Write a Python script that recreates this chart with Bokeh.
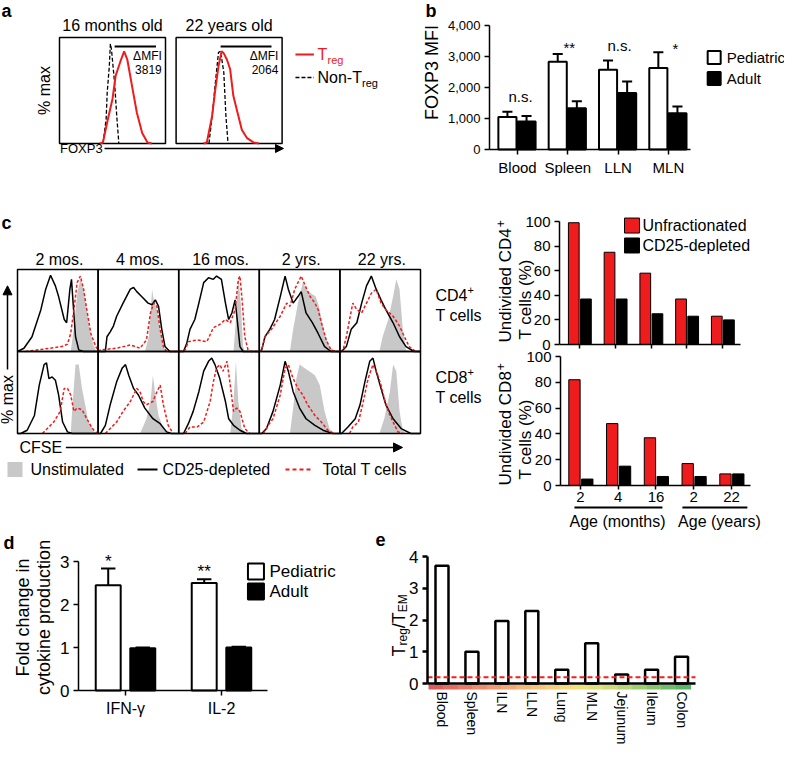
import math
from bokeh.plotting import figure
from bokeh.layouts import row, column
from bokeh.models import Range1d, LinearAxis, FixedTicker, NumeralTickFormatter, Arrow, NormalHead
from bokeh.core.properties import value
from bokeh.embed import file_html
from bokeh.resources import INLINE

# ---------------- data ----------------
# panel a: FOXP3 histograms, (x %, y % max)
a_titles = ["16 months old", "22 years old"]
a_mfi = ["3819", "2064"]
a_gate = [(52, 91), (42, 90)]
a_treg = [
    [(38, 0), (41, 1), (45, 20), (50, 42), (53, 64), (55, 70), (58, 79), (61, 87), (64, 79),
     (69, 51), (73, 29), (78, 10), (83, 1), (87, 0)],
    [(26, 0), (29, 1), (34, 26), (37, 51), (40, 73), (43, 87), (45, 85), (48, 79), (51, 70),
     (54, 45), (58, 29), (62, 13), (67, 5), (73, 1), (78, 0)],
]
a_nontreg = [
    [(41, 0), (44, 23), (45, 48), (47, 73), (48, 94), (49, 89), (52, 57), (54, 26), (56, 0)],
    [(31, 0), (34, 26), (37, 57), (40, 86), (42, 87), (45, 67), (47, 26), (49, 0)],
]

# panel b
b_tissues = ["Blood", "Spleen", "LLN", "MLN"]
b_ped = [1050, 2830, 2570, 2630]
b_ped_err = [170, 250, 300, 510]
b_adult = [900, 1330, 1820, 1170]
b_adult_err = [180, 230, 370, 220]
b_sig = ["n.s.", "**", "n.s.", "*"]

# panel c: CFSE histograms per age (x %, y % max)
c_ages = ["2 mos.", "4 mos.", "16 mos.", "2 yrs.", "22 yrs."]
cd4_unstim = [
    [(66, 0), (70, 30), (74, 70), (78, 88), (82, 75), (86, 50), (90, 25), (94, 8), (98, 0)],
    [(58, 0), (63, 18), (67, 76), (69, 63), (73, 51), (77, 27), (81, 6), (85, 0)],
    [(68, 0), (71, 39), (74, 92), (77, 59), (80, 6), (82, 0)],
    [(38, 0), (42, 27), (48, 59), (54, 84), (58, 76), (64, 71), (70, 67), (74, 55), (81, 22), (87, 6), (93, 0)],
    [(49, 0), (53, 18), (60, 39), (66, 67), (70, 88), (74, 76), (78, 27), (82, 2), (86, 0)],
]
cd4_depleted = [
    [(0, 0), (8, 4), (18, 18), (29, 51), (35, 76), (41, 93), (47, 80), (51, 67), (58, 39), (61, 35),
     (65, 76), (67, 88), (69, 59), (72, 18), (76, 2), (82, 0), (100, 0)],
    [(0, 0), (9, 0), (11, 18), (15, 24), (19, 31), (23, 43), (31, 59), (40, 76), (44, 78), (48, 73),
     (54, 67), (62, 59), (67, 57), (71, 63), (75, 55), (79, 27), (83, 6), (89, 0), (100, 0)],
    [(0, 0), (6, 0), (10, 10), (14, 27), (20, 39), (25, 59), (31, 84), (37, 90), (43, 88), (47, 92),
     (53, 88), (58, 59), (62, 39), (66, 47), (70, 63), (73, 35), (76, 6), (80, 0), (100, 0)],
    [(0, 0), (3, 2), (7, 18), (13, 27), (19, 39), (26, 67), (32, 92), (36, 76), (42, 59), (48, 67),
     (52, 73), (58, 47), (66, 35), (73, 22), (81, 6), (89, 0), (100, 0)],
    [(0, 0), (2, 0), (8, 6), (14, 27), (21, 35), (27, 59), (33, 80), (39, 92), (45, 76), (51, 63),
     (57, 51), (66, 35), (74, 18), (82, 6), (92, 0), (100, 0)],
]
cd4_total = [
    [(10, 0), (33, 3), (55, 6), (62, 9), (66, 22), (70, 51), (74, 84), (78, 92), (82, 76), (86, 51),
     (91, 22), (97, 6), (100, 2)],
    [(0, 0), (3, 2), (23, 4), (40, 8), (52, 4), (60, 14), (65, 47), (69, 59), (73, 55), (77, 27),
     (81, 6), (85, 0), (100, 0)],
    [(0, 0), (8, 2), (12, 12), (23, 14), (35, 12), (43, 29), (51, 33), (58, 39), (64, 35), (70, 51),
     (74, 88), (76, 92), (79, 59), (82, 18), (86, 2), (90, 0), (100, 0)],
    [(0, 0), (3, 2), (7, 18), (15, 27), (26, 43), (34, 59), (38, 55), (44, 76), (52, 92), (57, 80),
     (63, 67), (69, 59), (73, 51), (77, 35), (83, 14), (89, 2), (95, 0), (100, 0)],
    [(0, 0), (4, 2), (8, 18), (12, 39), (16, 59), (21, 51), (27, 47), (33, 59), (39, 71), (45, 76),
     (51, 59), (57, 51), (66, 43), (74, 31), (80, 18), (86, 6), (94, 0), (100, 0)],
]
cd8_unstim = [
    [(66, 0), (68, 31), (72, 84), (76, 84), (80, 55), (84, 35), (88, 14), (95, 2), (100, 0)],
    [(52, 0), (60, 18), (65, 39), (68, 71), (71, 47), (75, 22), (81, 6), (89, 0)],
    [(64, 0), (68, 39), (71, 88), (74, 39), (78, 6), (84, 0)],
    [(38, 0), (42, 31), (46, 67), (50, 84), (56, 80), (62, 76), (69, 71), (75, 59), (81, 27), (87, 6), (93, 0)],
    [(49, 0), (55, 18), (62, 51), (66, 84), (70, 76), (74, 27), (78, 4), (82, 0)],
]
cd8_depleted = [
    [(0, 0), (4, 0), (12, 4), (21, 22), (27, 59), (33, 84), (36, 86), (39, 67), (43, 69), (47, 65),
     (51, 47), (56, 14), (62, 2), (68, 0), (100, 0)],
    [(0, 0), (3, 0), (9, 10), (15, 35), (23, 63), (30, 80), (34, 84), (38, 71), (44, 55), (50, 47),
     (58, 31), (68, 18), (77, 12), (85, 2), (91, 0), (100, 0)],
    [(0, 0), (6, 0), (12, 12), (18, 27), (25, 51), (31, 76), (37, 88), (41, 92), (45, 84), (51, 67),
     (58, 39), (62, 18), (68, 10), (76, 4), (84, 0), (100, 0)],
    [(0, 0), (3, 0), (9, 6), (17, 27), (26, 59), (32, 88), (36, 76), (42, 51), (50, 31), (58, 18),
     (69, 10), (79, 4), (91, 0), (100, 0)],
    [(0, 0), (2, 0), (10, 8), (19, 18), (25, 35), (31, 63), (37, 88), (41, 92), (45, 76), (51, 55),
     (57, 35), (66, 18), (76, 6), (88, 0), (100, 0)],
]
cd8_total = [
    [(31, 0), (37, 6), (45, 14), (53, 27), (58, 55), (62, 55), (66, 47), (70, 27), (74, 31), (80, 29),
     (86, 18), (93, 6), (99, 0)],
    [(9, 0), (15, 6), (23, 14), (31, 27), (40, 39), (48, 55), (52, 51), (56, 39), (60, 35), (68, 39),
     (73, 51), (77, 59), (81, 35), (87, 10), (93, 0)],
    [(8, 0), (14, 8), (23, 8), (31, 14), (39, 39), (43, 63), (47, 80), (51, 84), (55, 76), (60, 88),
     (64, 59), (68, 27), (72, 31), (76, 27), (82, 6), (88, 0)],
    [(5, 0), (11, 10), (17, 18), (26, 47), (32, 80), (36, 84), (42, 67), (48, 55), (54, 47), (60, 35),
     (69, 22), (77, 14), (85, 4), (93, 0)],
    [(12, 0), (16, 8), (23, 14), (29, 39), (35, 67), (41, 84), (47, 71), (51, 59), (55, 43), (60, 27),
     (66, 14), (72, 2), (78, 0)],
]

# panel c: undivided cells (%)
c_age_ticks = ["2", "4", "16", "2", "22"]
cd4_unfrac = [99, 75, 58, 37, 23]
cd4_depl = [37, 37, 25, 23, 20]
cd8_unfrac = [82, 48, 37, 17, 9]
cd8_depl = [5, 15, 7, 7, 9]

# panel d
d_cytokines = ["IFN-γ", "IL-2"]
d_ped = [2.45, 2.50]
d_ped_err = [0.39, 0.09]
d_adult = [0.98, 1.00]
d_adult_err = [0.02, 0.02]
d_sig = ["*", "**"]

# panel e
e_tissues = ["Blood", "Spleen", "ILN", "LLN", "Lung", "MLN", "Jejunum", "Ileum", "Colon"]
e_ratio = [3.71, 1.0, 1.97, 2.28, 0.43, 1.27, 0.28, 0.43, 0.84]
e_threshold = 0.2
e_gradient = ["#e05c5c", "#e56a62", "#ea7a68", "#ee8a6e", "#f19a72", "#f3a876", "#f5b67a", "#f6c27c",
              "#f6ce7c", "#f4da7c", "#efe07c", "#e2e07a", "#cedb78", "#b8d476", "#a0cc72", "#88c46e",
              "#70bc6a", "#5cb466"]

# ---------------- helpers ----------------
FONT = value("Liberation Sans")
RED = "#ee1c1c"
GRAY = "#c8c8c8"


def canvas(w, h, xr, yr):
    return figure(width=w, height=h, x_range=Range1d(*xr), y_range=Range1d(*yr),
                  x_axis_type=None, y_axis_type=None, toolbar_location=None,
                  output_backend="svg", min_border=0, outline_line_color=None)


def txt(p, x, y, s, size, color="black", align="left", base="middle", angle=0, bold=False, **kw):
    p.text(x=[x], y=[y], text=[s], text_font=FONT, text_font_size=f"{size}px",
           text_color=color, text_align=align, text_baseline=base, angle=angle,
           text_font_style="bold" if bold else "normal", **kw)


def add_axis(p, side, ticks, loc, bounds, size, labels=None, fmt=None, xr="default", yr="default",
             tick_out=5, standoff=4, width=1.5, orient="horizontal"):
    ax = LinearAxis(ticker=FixedTicker(ticks=ticks), fixed_location=loc, bounds=bounds,
                    x_range_name=xr, y_range_name=yr,
                    axis_line_width=width, major_tick_line_width=width,
                    major_tick_out=tick_out, major_tick_in=0, minor_tick_out=0, minor_tick_in=0,
                    major_label_text_font="Liberation Sans", major_label_text_font_size=size,
                    major_label_text_color="black",
                    major_label_standoff=standoff, major_label_orientation=orient)
    if labels is not None:
        ax.major_label_overrides = labels
    if fmt is not None:
        ax.formatter = fmt
    p.add_layout(ax, side)


def err_bars(p, xs, tops, errs, cap, lw, **kw):
    ends = [t + e for t, e in zip(tops, errs)]
    p.segment(x0=xs, y0=tops, x1=xs, y1=ends, line_color="black", line_width=lw, **kw)
    p.segment(x0=[x - cap / 2 for x in xs], y0=ends, x1=[x + cap / 2 for x in xs], y1=ends,
              line_color="black", line_width=lw, **kw)


def shifted(curve, dx, dy):
    return [x + dx for x, _ in curve], [y + dy for _, y in curve]


# ---------------- panel a ----------------
fa = canvas(412, 182, (-55.66, 333.02), (-36.79, 134.91))
a_off = [0, 110]
for k, o in enumerate(a_off):
    fa.quad(left=[o], right=[o + 100], bottom=[0], top=[100], fill_color=None,
            line_color="black", line_width=1.5)
    xs, ys = shifted(a_nontreg[k], o, 0)
    fa.line(xs, ys, line_color="black", line_width=1.3, line_dash="4 2")
    xs, ys = shifted(a_treg[k], o, 0)
    fa.line(xs, ys, line_color=RED, line_width=2)
    g0, g1 = a_gate[k]
    fa.line([o + g0, o + g1], [91.5, 91.5], line_color="black", line_width=2)
    txt(fa, o + 96.5, 83, "ΔMFI", 12, align="right")
    txt(fa, o + 96.5, 70, a_mfi[k], 12, align="right")
    txt(fa, o + 50, 111, a_titles[k], 16, align="center")

fa.line([222.6, 240], [84, 84], line_color=RED, line_width=2)
txt(fa, 243.4, 84, "T", 16, color=RED)
txt(fa, 252.8, 79.2, "reg", 11, color=RED)
fa.line([222.6, 240], [62.3, 62.3], line_color="black", line_width=1.5, line_dash="4 2")
txt(fa, 243.4, 62.3, "Non-T", 16)
txt(fa, 285.4, 57.5, "reg", 11)
txt(fa, -14, 50, "% max", 16, align="center", angle=math.pi / 2)
txt(fa, 0.5, -4.7, "FOXP3", 13)
fa.add_layout(Arrow(end=NormalHead(size=8, fill_color="black"), x_start=42.5, y_start=-4.7,
                    x_end=211.3, y_end=-4.7, line_width=1.5))
txt(fa, -54.7, 134.5, "a", 18, base="top", bold=True)

# ---------------- panel b ----------------
fb = canvas(372, 182, (-2.087, 5.308), (-1064.5, 4806.5))
bx = list(range(len(b_tissues)))
b_px = [i - 0.2 for i in bx]
b_ax = [i + 0.18 for i in bx]
fb.vbar(x=b_px, top=b_ped, width=0.36, fill_color="white", line_color="black", line_width=2)
fb.vbar(x=b_ax, top=b_adult, width=0.36, fill_color="black", line_color="black", line_width=2)
err_bars(fb, b_px, b_ped, b_ped_err, 0.2, 2)
err_bars(fb, b_ax, b_adult, b_adult_err, 0.2, 2)
add_axis(fb, "left", [0, 1000, 2000, 3000, 4000], -0.557, (0, 4000), "13px",
         fmt=NumeralTickFormatter(format="0,0"))
add_axis(fb, "below", bx, 0, (-0.557, 3.44), "15px", labels={i: t for i, t in enumerate(b_tissues)})
for s, x, y in zip(b_sig, [0.06, 1.03, 2.03, 3.14], [1710, 3290, 3355, 3258]):
    txt(fb, x, y, s, 15, align="center")
fb.scatter([3.91, 3.91], [2968, 2290], marker="square", size=13, fill_color=["white", "black"],
           line_color="black", line_width=2)
txt(fb, 4.16, 2968, "Pediatric", 15)
txt(fb, 4.16, 2290, "Adult", 15)
txt(fb, -1.69, 2484, "FOXP3 MFI", 18, align="center", angle=math.pi / 2)
txt(fb, -1.83, 4790, "b", 18, base="top", bold=True)

# ---------------- panel c, histograms ----------------
fc1 = canvas(482, 348, (-21.09, 576.92), (-118.29, 306.1))
rows = [(cd8_unstim, cd8_depleted, cd8_total), (cd4_unstim, cd4_depleted, cd4_total)]
gx, gy, kx, ky, rx, ry = [], [], [], [], [], []
for r, (unst, dep, tot) in enumerate(rows):
    for j in range(len(c_ages)):
        xs, ys = shifted(unst[j], 100 * j, 100 * r)
        gx.append(xs); gy.append(ys)
        xs, ys = shifted(dep[j], 100 * j, 100 * r)
        kx.append(xs); ky.append(ys)
        xs, ys = shifted(tot[j], 100 * j, 100 * r)
        rx.append(xs); ry.append(ys)
fc1.patches(gx, gy, fill_color=GRAY, line_color=None)
fc1.multi_line(kx, ky, line_color="black", line_width=1.5)
fc1.multi_line(rx, ry, line_color=RED, line_width=1.5, line_dash="3 2")
cells_l = [100 * j for r in range(2) for j in range(5)]
cells_b = [100 * r for r in range(2) for j in range(5)]
fc1.quad(left=cells_l, right=[v + 100 for v in cells_l], bottom=cells_b,
         top=[v + 100 for v in cells_b], fill_color=None, line_color="black", line_width=1.5)
for j, t in enumerate(c_ages):
    txt(fc1, 100 * j + 52, 212.2, t, 16, align="center")
txt(fc1, 518.6, 168.3, "CD4", 16)
txt(fc1, 558.3, 174.4, "+", 11)
txt(fc1, 518.6, 143.9, "T cells", 16)
txt(fc1, 518.6, 68.3, "CD8", 16)
txt(fc1, 558.3, 74.4, "+", 11)
txt(fc1, 518.6, 43.9, "T cells", 16)
txt(fc1, -12.4, 41.5, "% max", 16, align="center", angle=math.pi / 2)
fc1.add_layout(Arrow(end=NormalHead(size=9, fill_color="black"), x_start=-12.4, y_start=78,
                     x_end=-12.4, y_end=180.1, line_width=1.5))
txt(fc1, 2.5, -17, "CFSE", 16)
fc1.add_layout(Arrow(end=NormalHead(size=9, fill_color="black"), x_start=60, y_start=-17,
                     x_end=477.7, y_end=-17, line_width=1.5))
fc1.scatter([-3.1], [-43.9], marker="square", size=15, fill_color=GRAY, line_color=None)
txt(fc1, 16.1, -43.9, "Unstimulated", 16)
fc1.line([148.9, 173.7], [-43.9, -43.9], line_color="black", line_width=2)
txt(fc1, 180, -43.9, "CD25-depleted", 16)
fc1.line([332.5, 363.5], [-43.9, -43.9], line_color=RED, line_width=2, line_dash="4 3")
txt(fc1, 378.4, -43.9, "Total T cells", 16)
txt(fc1, -19.9, 268.3, "c", 18, base="top", bold=True)

# ---------------- panel c, bars ----------------
fc2 = canvas(302, 348, (-2.713, 5.734), (-151.22, 131.71))
fc2.extra_x_ranges = {"bot": Range1d(-2.596, 5.404)}
fc2.extra_y_ranges = {"bot": Range1d(-34.88, 234.88)}
cx = list(range(len(c_age_ticks)))
c_rx = [i - 0.16 for i in cx]
c_kx = [i + 0.18 for i in cx]
fc2.vbar(x=c_rx, top=cd4_unfrac, width=0.3, fill_color=RED, line_color="black", line_width=1)
fc2.vbar(x=c_kx, top=cd4_depl, width=0.3, fill_color="black", line_color="black", line_width=1)
fc2.vbar(x=c_rx, top=cd8_unfrac, width=0.3, fill_color=RED, line_color="black", line_width=1,
         x_range_name="bot", y_range_name="bot")
fc2.vbar(x=c_kx, top=cd8_depl, width=0.3, fill_color="black", line_color="black", line_width=1,
         x_range_name="bot", y_range_name="bot")
pct = [0, 20, 40, 60, 80, 100]
add_axis(fc2, "left", pct, -0.559, (0, 100), "15px")
add_axis(fc2, "below", cx, 0, (-0.559, 4.503), "15px", labels={i: "" for i in cx}, tick_out=4)
add_axis(fc2, "left", pct, -0.53, (0, 100), "15px", xr="bot", yr="bot")
add_axis(fc2, "below", cx, 0, (-0.53, 4.503), "15px", xr="bot", yr="bot",
         labels={i: t for i, t in enumerate(c_age_ticks)}, tick_out=4, standoff=2)
fc2.scatter([1.469, 1.469], [96.7, 80.5], marker="square", size=15, fill_color=[RED, "black"],
            line_color="black", line_width=1)
txt(fc2, 1.762, 96.7, "Unfractionated", 16)
txt(fc2, 1.762, 80.5, "CD25-depleted", 16)
txt(fc2, -2.07, 1.6, "Undivided CD4", 17, angle=math.pi / 2)
txt(fc2, -2.21, 95.4, "+", 12, angle=math.pi / 2)
txt(fc2, -1.51, 4.07, "T cells (%)", 17, angle=math.pi / 2)
txt(fc2, -1.987, 0, "Undivided CD8", 17, angle=math.pi / 2, x_range_name="bot", y_range_name="bot")
txt(fc2, -2.119, 89.4, "+", 12, angle=math.pi / 2, x_range_name="bot", y_range_name="bot")
txt(fc2, -1.457, 4.65, "T cells (%)", 17, angle=math.pi / 2, x_range_name="bot", y_range_name="bot")
fc2.line([-0.16, 2.17], [-17.05, -17.05], line_color="black", line_width=2,
         x_range_name="bot", y_range_name="bot")
fc2.line([2.70, 4.42], [-17.05, -17.05], line_color="black", line_width=2,
         x_range_name="bot", y_range_name="bot")
txt(fc2, 0.98, -27.9, "Age (months)", 16, align="center", x_range_name="bot", y_range_name="bot")
txt(fc2, 3.68, -27.9, "Age (years)", 16, align="center", x_range_name="bot", y_range_name="bot")

# ---------------- panel d ----------------
fd = canvas(372, 216, (-1.302, 2.573), (-1.302, 3.721))
dx = list(range(len(d_cytokines)))
d_px = [i - 0.18 for i in dx]
d_ax = [i + 0.18 for i in dx]
fd.vbar(x=d_px, top=d_ped, width=0.26, fill_color="white", line_color="black", line_width=2)
fd.vbar(x=d_ax, top=d_adult, width=0.26, fill_color="black", line_color="black", line_width=2)
err_bars(fd, d_px, d_ped, d_ped_err, 0.15, 2)
err_bars(fd, d_ax, d_adult, d_adult_err, 0.15, 2)
add_axis(fd, "left", [0, 1, 2, 3], -0.49, (0, 3), "17px")
add_axis(fd, "below", dx, 0, (-0.49, 1.479), "16px", labels={i: t for i, t in enumerate(d_cytokines)})
for s, x, t, e in zip(d_sig, d_px, d_ped, d_ped_err):
    txt(fd, x, t + e + 0.17, s, 17, align="center")
fd.scatter([1.359, 1.359], [2.767, 2.302], marker="square", size=16, fill_color=["white", "black"],
           line_color="black", line_width=2)
txt(fd, 1.5, 2.767, "Pediatric", 17)
txt(fd, 1.5, 2.302, "Adult", 17)
txt(fd, -1.068, 1.70, "Fold change in", 18, align="center", angle=math.pi / 2)
txt(fd, -0.844, 1.70, "cytokine production", 18, align="center", angle=math.pi / 2)
txt(fd, -1.27, 3.67, "d", 18, base="top", bold=True)

# ---------------- panel e ----------------
fe = canvas(412, 216, (-2.321, 11.439), (-1.984, 4.819))
ex = list(range(len(e_tissues)))
n = len(e_gradient)
g0, g1 = -0.45, 8.3
step = (g1 - g0) / n
fe.quad(left=[g0 + k * step for k in range(n)], right=[g0 + (k + 1) * step + 0.02 for k in range(n)],
        bottom=-0.19, top=-0.03, fill_color=e_gradient, line_color=None)
fe.vbar(x=ex, top=e_ratio, width=0.434, fill_color="white", line_color="black", line_width=2.5)
fe.line([-0.484, 8.467], [e_threshold, e_threshold], line_color="#ff1a1a", line_width=2,
        line_dash="5 3")
add_axis(fe, "left", [0, 1, 2, 3, 4], -0.484, (0, 4), "17px", width=2.5)
add_axis(fe, "below", ex, 0, (-0.484, 8.467), "14px", labels={i: t for i, t in enumerate(e_tissues)},
         orient="vertical", tick_out=0, standoff=8, width=2.5)
# y title T_reg / T_EM built from pieces, read bottom to top
pieces = [("T", 18, 0.611, -1.42), ("reg", 12, 1.445, -1.29), ("/T", 18, 0.889, -1.42), ("EM", 12, 1.5, -1.29)]
ypx = 0.0
for s, size, em, xb in pieces:
    txt(fe, xb, 0.85 + ypx / 31.75, s, size, base="alphabetic", angle=math.pi / 2)
    ypx += em * size
txt(fe, -2.22, 4.74, "e", 18, base="top", bold=True)

layout = column(row(fa, fb), row(fc1, fc2), row(fd, fe))
with open("out.html", "w", encoding="utf-8") as f:
    f.write(file_html(layout, INLINE))
